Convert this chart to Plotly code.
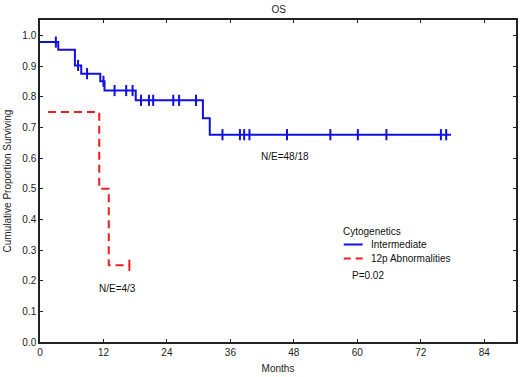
import plotly.graph_objects as go

# ---- data ----
blue_times = [0, 3.45, 6.6, 7.8, 11.4, 12.2, 18.1, 30.8, 32.1]
blue_surv = [0.978, 0.953, 0.902, 0.875, 0.85, 0.82, 0.788, 0.73, 0.676]
blue_end = 77.7
blue_censor = [3.0, 7.2, 8.9, 12.0, 14.1, 16.3, 17.5, 19.1, 20.6, 21.4, 25.2, 26.3,
               29.5, 34.5, 37.8, 38.6, 39.6, 46.7, 54.9, 60.1, 65.5, 75.8, 76.8]

red_times = [1.5, 11.2, 13.0]
red_surv = [0.75, 0.5, 0.25]
red_end = 16.9
red_censor = [16.9]

series_names = ["Intermediate", "12p Abnormalities"]
legend_title = "Cytogenetics"
p_text = "P=0.02"

x_ticks = [0, 12, 24, 36, 48, 60, 72, 84]
y_ticks = [0.0, 0.1, 0.2, 0.3, 0.4, 0.5, 0.6, 0.7, 0.8, 0.9, 1.0]

BLUE = "#1010e0"
RED = "#ee1c1c"
INK = "#222"
FONT = "Liberation Sans, Arial, sans-serif"

W, H = 520, 377
ML, MR, MT, MB = 40, 2, 20, 35
PW, PH = W - ML - MR, H - MT - MB


def px2paper(px, py):
    return (px - ML) / PW, (H - MB - py) / PH


def step_xy(times, surv, end):
    xs, ys = [], []
    for i, (t, s) in enumerate(zip(times, surv)):
        if i > 0:
            xs.append(t)
            ys.append(surv[i - 1])
        xs.append(t)
        ys.append(s)
    xs.append(end)
    ys.append(surv[-1])
    return xs, ys


def level_at(times, surv, t):
    v = surv[0]
    for tt, s in zip(times, surv):
        if t >= tt:
            v = s
    return v


fig = go.Figure()

bx, by = step_xy(blue_times, blue_surv, blue_end)
fig.add_trace(go.Scatter(x=bx, y=by, mode="lines", name=series_names[0],
                         line=dict(color=BLUE, width=2)))
rx, ry = step_xy(red_times, red_surv, red_end)
fig.add_trace(go.Scatter(x=rx, y=ry, mode="lines", name=series_names[1],
                         line=dict(color=RED, width=2, dash="8px,5px")))

fig.add_trace(go.Scatter(x=blue_censor,
                         y=[level_at(blue_times, blue_surv, t) for t in blue_censor],
                         mode="markers",
                         marker=dict(symbol="line-ns", size=8,
                                     line=dict(color=BLUE, width=2))))
fig.add_trace(go.Scatter(x=red_censor,
                         y=[level_at(red_times, red_surv, t) for t in red_censor],
                         mode="markers",
                         marker=dict(symbol="line-ns", size=8,
                                     line=dict(color=RED, width=2))))

axis_common = dict(showline=True, linecolor=INK, linewidth=1.5, mirror="ticks",
                   ticks="inside", ticklen=3, tickcolor=INK, showgrid=False,
                   zeroline=False, tickfont=dict(family=FONT, size=10, color=INK))

fig.update_xaxes(range=[0, 90], tickvals=x_ticks, ticktext=[str(v) for v in x_ticks],
                 title=dict(text="Months", font=dict(family=FONT, size=10, color=INK),
                            standoff=8),
                 **axis_common)
fig.update_yaxes(range=[0, 1.05], tickvals=y_ticks, ticktext=[f"{v:.1f}" for v in y_ticks],
                 title=dict(text="Cumulative Proportion Surviving",
                            font=dict(family=FONT, size=10, color=INK), standoff=9),
                 **axis_common)

# manual compact legend (STATISTICA style)
lx0, _ = px2paper(345, 0)
lx1, _ = px2paper(364, 0)
tx, _ = px2paper(370, 0)
ttx, tty = px2paper(342, 231)
_, y1 = px2paper(0, 244.5)
_, y2 = px2paper(0, 258.5)
ppx, ppy = px2paper(351, 275)

shapes = [
    dict(type="line", xref="paper", yref="paper", x0=lx0, x1=lx1, y0=y1, y1=y1,
         line=dict(color=BLUE, width=2)),
    dict(type="line", xref="paper", yref="paper", x0=lx0, x1=lx1, y0=y2, y1=y2,
         line=dict(color=RED, width=2, dash="7px,5px")),
]

fnt = dict(family=FONT, size=10, color="#111")
annotations = [
    dict(x=46.3, y=0.605, xref="x", yref="y", text="N/E=48/18", showarrow=False, font=fnt),
    dict(x=14.6, y=0.176, xref="x", yref="y", text="N/E=4/3", showarrow=False, font=fnt),
    dict(x=ttx, y=tty, xref="paper", yref="paper", text=legend_title, showarrow=False,
         xanchor="left", yanchor="middle", font=fnt),
    dict(x=tx, y=y1, xref="paper", yref="paper", text=series_names[0], showarrow=False,
         xanchor="left", yanchor="middle", font=fnt),
    dict(x=tx, y=y2, xref="paper", yref="paper", text=series_names[1], showarrow=False,
         xanchor="left", yanchor="middle", font=fnt),
    dict(x=ppx, y=ppy, xref="paper", yref="paper", text=p_text, showarrow=False,
         xanchor="left", yanchor="middle", font=fnt),
]

fig.update_layout(
    width=W, height=H,
    margin=dict(l=ML, r=MR, t=MT, b=MB),
    paper_bgcolor="white", plot_bgcolor="white",
    title=dict(text="OS", x=0.536, xanchor="center", y=0.985, yanchor="top",
               font=dict(family=FONT, size=10, color=INK)),
    showlegend=False,
    hovermode=False,
    shapes=shapes,
    annotations=annotations,
)

fig.write_html("out.html", config={"displayModeBar": False},
               post_script="document.body.style.margin='0';")
